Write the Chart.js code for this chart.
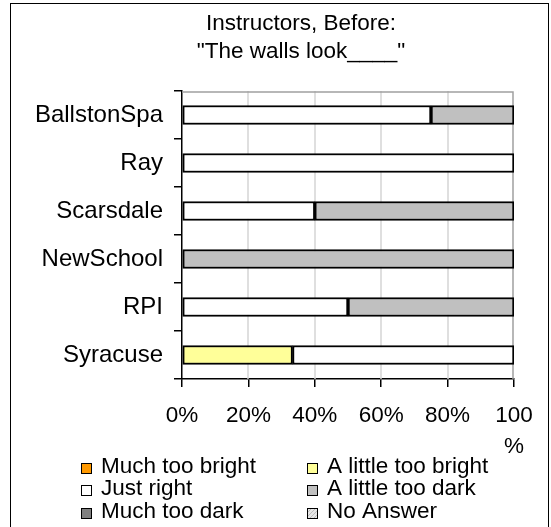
<!DOCTYPE html>
<html>
<head>
<meta charset="utf-8">
<script src="https://cdn.jsdelivr.net/npm/chart.js@4/dist/chart.umd.min.js"></script>
<style>
  html, body { margin: 0; padding: 0; background: #fff; }
  #wrap { width: 551px; height: 527px; }
</style>
</head>
<body>
<div id="wrap"><canvas id="chart" width="551" height="527"></canvas></div>
<script>
// --- data ---
const titleLines = ['Instructors, Before:', '"The walls look____"'];
const schools = ['BallstonSpa', 'Ray', 'Scarsdale', 'NewSchool', 'RPI', 'Syracuse'];
const seriesNames = ['Much too bright', 'A little too bright', 'Just right', 'A little too dark', 'Much too dark', 'No Answer'];
const muchTooBright   = [0, 0, 0, 0, 0, 0];
const littleTooBright = [0, 0, 0, 0, 0, 33.3];
const justRight       = [75, 100, 40, 0, 50, 66.7];
const littleTooDark   = [25, 0, 60, 100, 50, 0];
const muchTooDark     = [0, 0, 0, 0, 0, 0];
const noAnswer        = [0, 0, 0, 0, 0, 0];
const xTicks = [0, 20, 40, 60, 80, 100];

const FONT = '"Liberation Sans", Arial, sans-serif';
const FS = 22.5;

// hatch for "No Answer"
function hatch() {
  const c = document.createElement('canvas');
  c.width = 4; c.height = 4;
  const g = c.getContext('2d');
  g.fillStyle = '#e6e6e6'; g.fillRect(0, 0, 4, 4);
  g.strokeStyle = '#bdbdbd'; g.lineWidth = 1;
  g.beginPath(); g.moveTo(0, 4); g.lineTo(4, 0); g.stroke();
  return g.createPattern(c, 'repeat');
}

const colors = ['#ff9900', '#ffff99', '#ffffff', '#c0c0c0', '#808080', hatch()];
const values = [muchTooBright, littleTooBright, justRight, littleTooDark, muchTooDark, noAnswer];

const datasets = seriesNames.map((name, i) => ({
  label: name,
  data: values[i].map(v => v === 0 ? null : v),
  backgroundColor: colors[i],
  borderColor: '#000',
  borderWidth: 2,
  borderSkipped: false,
  barThickness: 19
}));

// frame, title, plot outline + gridlines, legend
const decor = {
  id: 'decor',
  beforeDatasetsDraw(chart) {
    const { ctx, chartArea: a, scales } = chart;
    ctx.save();
    ctx.strokeStyle = '#d4d4d4';
    ctx.lineWidth = 1.5;
    xTicks.slice(1, -1).forEach(v => {
      const x = Math.round(scales.x.getPixelForValue(v));
      ctx.beginPath();
      ctx.moveTo(x, a.top);
      ctx.lineTo(x, a.bottom);
      ctx.stroke();
    });
    ctx.strokeStyle = '#a0a0a0';
    ctx.beginPath();
    ctx.moveTo(a.left, a.top + 1);
    ctx.lineTo(a.right - 1, a.top + 1);
    ctx.lineTo(a.right - 1, a.bottom);
    ctx.stroke();
    ctx.restore();
  },
  afterDraw(chart) {
    const ctx = chart.ctx;
    ctx.save();
    ctx.strokeStyle = '#000';
    ctx.lineWidth = 1;
    ctx.strokeRect(10.5, 3.5, 538, 540);

    ctx.fillStyle = '#000';
    ctx.font = FS + 'px ' + FONT;
    ctx.textAlign = 'center';
    ctx.textBaseline = 'alphabetic';
    ctx.fillText(titleLines[0], 301, 30);
    ctx.fillText(titleLines[1], 301, 58);

    // legend, two columns
    ctx.textAlign = 'left';
    const colX = [81, 307];
    const rowY = [473, 495, 518];
    chart.data.datasets.forEach((ds, i) => {
      const x = colX[i % 2], y = rowY[Math.floor(i / 2)];
      ctx.fillStyle = ds.backgroundColor;
      ctx.fillRect(x, y - 10, 10, 10);
      ctx.strokeStyle = '#000';
      ctx.lineWidth = 1;
      ctx.strokeRect(x + 0.5, y - 9.5, 10, 10);
      ctx.fillStyle = '#000';
      ctx.fillText(ds.label, x + 20, y);
    });
    ctx.restore();
  }
};

new Chart(document.getElementById('chart'), {
  type: 'bar',
  data: { labels: schools, datasets },
  options: {
    indexAxis: 'y',
    responsive: false,
    animation: false,
    layout: { padding: { top: 91, right: 37, bottom: 0, left: 0 } },
    plugins: { legend: { display: false }, title: { display: false }, tooltip: { enabled: false } },
    scales: {
      x: {
        stacked: true,
        min: 0, max: 100,
        afterBuildTicks: s => { s.ticks = xTicks.map(v => ({ value: v })); },
        afterFit: s => { s.height = 148; },
        ticks: {
          color: '#000',
          padding: 13,
          maxRotation: 0,
          font: { family: FONT, size: FS, lineHeight: 1.4 },
          callback: v => v === 100 ? ['100', '%'] : v + '%'
        },
        grid: { drawOnChartArea: false, color: '#000', tickLength: 8, lineWidth: 1.5 },
        border: { color: '#000', width: 1.5 }
      },
      y: {
        stacked: true,
        afterFit: s => { s.width = 182; },
        ticks: { color: '#000', padding: 11, font: { family: FONT, size: 24 } },
        grid: { offset: true, drawOnChartArea: false, color: '#000', tickLength: 8, lineWidth: 1.5 },
        border: { color: '#000', width: 1.5 }
      }
    }
  },
  plugins: [decor]
});
</script>
</body>
</html>
